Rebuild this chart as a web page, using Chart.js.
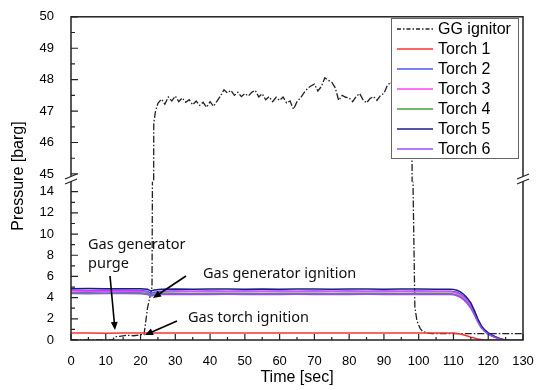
<!DOCTYPE html>
<html>
<head>
<meta charset="utf-8">
<script src="https://cdn.jsdelivr.net/npm/chart.js@4"></script>
<style>
html, body { margin: 0; padding: 0; background: #fff; }
#wrap { width: 540px; height: 390px; }
</style>
</head>
<body>
<div id="wrap"><canvas id="chart"></canvas></div>
<script>
// GG ignitor pressure: time [sec] and pressure [barg]
const ggTime = [0, 12, 12.5, 14, 16, 18, 20, 21, 22, 23.3, 23.8, 24.3,
  25, 26, 27, 28, 29, 30, 31, 32, 33, 34, 35, 36, 37, 38, 39, 40, 41, 42, 43, 44,
  45, 46, 47, 48, 49, 50, 51, 52, 53, 54, 55, 56, 57, 58, 59, 60, 61, 62, 63, 64,
  65, 66, 67, 68, 69, 70, 71, 72, 73, 74, 75, 76, 77, 78, 79, 80, 81, 82, 83, 84,
  85, 86, 87, 88, 89, 90, 91, 92, 93, 94, 95, 96, 97,
  97.6, 98.1, 98.4, 98.9, 99.5, 100.4, 101, 102.4, 104, 130];
const ggValue = [0, 0, 0.3, 0.35, 0.45, 0.4, 0.5, 0.5, 3.0, 5.0, 46.6, 47.0,
  47.25, 47.38, 47.22, 47.45, 47.32, 47.48, 47.3, 47.42, 47.28, 47.36, 47.2, 47.32, 47.18, 47.28, 47.12, 47.3, 47.15, 47.32, 47.48, 47.68,
  47.58, 47.66, 47.5, 47.6, 47.46, 47.56, 47.48, 47.6, 47.66, 47.45, 47.55, 47.36, 47.46, 47.3, 47.44, 47.34, 47.45, 47.26, 47.32, 47.06,
  47.3, 47.42, 47.58, 47.72, 47.8, 47.86, 47.64, 47.78, 48.06, 47.98, 47.92, 47.74, 47.34, 47.5, 47.44, 47.42, 47.3, 47.46, 47.56, 47.36,
  47.26, 47.4, 47.46, 47.34, 47.5, 47.56, 47.82, 47.92, 47.72, 47.82, 47.6, 47.7, 47.5,
  47.0, 45.3, 14, 3.1, 1.8, 1.1, 0.85, 0.65, 0.6, 0.6];

// torch pressures share one time base
const torchTime = [0, 5, 10, 15, 20, 22, 23, 24, 26, 30, 35, 40, 45, 50, 55, 60, 65, 70, 75, 80, 85, 90, 95, 100, 105,
  109, 110, 111, 112, 113, 114, 115, 116, 117, 118, 119, 120, 121, 122, 123, 124, 125, 126, 130];
const torch1 = [0.65, 0.65, 0.64, 0.65, 0.65, 0.65, 0.64, 0.65, 0.65, 0.65, 0.66, 0.65, 0.65, 0.66, 0.65, 0.65, 0.66, 0.65, 0.65, 0.66, 0.65, 0.65, 0.66, 0.65, 0.65,
  0.65, 0.65, 0.62, 0.56, 0.47, 0.37, 0.27, 0.18, 0.1, 0.04, 0, 0, 0, 0, 0, 0, null, null, null];
const torch2 = [4.7, 4.68, 4.7, 4.69, 4.68, 4.6, 4.4, 4.5, 4.6, 4.62, 4.61, 4.62, 4.6, 4.62, 4.61, 4.62, 4.6, 4.62, 4.61, 4.62, 4.6, 4.62, 4.61, 4.62, 4.6,
  4.6, 4.58, 4.5, 4.35, 4.1, 3.75, 3.3, 2.65, 1.9, 1.28, 0.9, 0.64, 0.45, 0.3, 0.16, 0.07, 0, 0, null];
const torch3 = [4.62, 4.6, 4.61, 4.6, 4.6, 4.5, 4.2, 4.35, 4.52, 4.56, 4.55, 4.56, 4.55, 4.56, 4.55, 4.56, 4.55, 4.56, 4.55, 4.56, 4.55, 4.56, 4.55, 4.56, 4.55,
  4.55, 4.52, 4.42, 4.25, 4.0, 3.65, 3.2, 2.55, 1.8, 1.2, 0.85, 0.6, 0.42, 0.28, 0.15, 0.06, 0, 0, null];
const torch4 = [4.45, 4.46, 4.44, 4.45, 4.45, 4.4, 4.25, 4.32, 4.38, 4.38, 4.37, 4.38, 4.39, 4.38, 4.37, 4.38, 4.39, 4.38, 4.37, 4.38, 4.39, 4.38, 4.37, 4.38, 4.38,
  4.38, 4.35, 4.26, 4.1, 3.85, 3.5, 3.05, 2.45, 1.75, 1.18, 0.82, 0.58, 0.4, 0.26, 0.14, 0.05, 0, 0, null];
const torch5 = [4.85, 4.86, 4.84, 4.85, 4.84, 4.8, 4.62, 4.72, 4.8, 4.82, 4.8, 4.82, 4.81, 4.8, 4.82, 4.8, 4.81, 4.82, 4.8, 4.81, 4.82, 4.8, 4.81, 4.82, 4.8,
  4.8, 4.78, 4.7, 4.55, 4.3, 3.95, 3.5, 2.8, 2.0, 1.35, 0.95, 0.68, 0.48, 0.32, 0.18, 0.08, 0, 0, null];
const torch6 = [4.38, 4.37, 4.38, 4.38, 4.37, 4.3, 4.15, 4.22, 4.3, 4.3, 4.29, 4.3, 4.31, 4.3, 4.29, 4.3, 4.31, 4.3, 4.29, 4.3, 4.31, 4.3, 4.29, 4.3, 4.3,
  4.3, 4.27, 4.18, 4.02, 3.78, 3.45, 3.0, 2.4, 1.72, 1.15, 0.8, 0.56, 0.38, 0.25, 0.13, 0.05, 0, 0, 0];

const seriesNames = ['GG ignitor', 'Torch 1', 'Torch 2', 'Torch 3', 'Torch 4', 'Torch 5', 'Torch 6'];
const seriesColors = ['#222222', '#ff3030', '#5050ff', '#ff40ff', '#3f9f3f', '#1c1c8a', '#9a4dff'];
const torchValues = [torch1, torch2, torch3, torch4, torch5, torch6];

const xTicks = [0, 10, 20, 30, 40, 50, 60, 70, 80, 90, 100, 110, 120, 130];
const yTopTicks = [45, 46, 47, 48, 49, 50];
const yBotTicks = [0, 2, 4, 6, 8, 10, 12, 14];

const ggDash = [7, 2, 1.5, 2];

function pts(ts, vs) {
  return ts.map((t, i) => ({ x: t, y: vs[i] })).filter(p => p.y !== null);
}

const datasets = [];
// GG ignitor drawn on both halves of the broken axis; each half clips to its own scale
datasets.push({ label: seriesNames[0], data: pts(ggTime, ggValue), yAxisID: 'yTop',
  borderColor: seriesColors[0], borderWidth: 1.3, borderDash: ggDash, order: 10 });
datasets.push({ label: seriesNames[0], data: pts(ggTime, ggValue), yAxisID: 'yBot',
  borderColor: seriesColors[0], borderWidth: 1.3, borderDash: ggDash, order: 10 });
torchValues.forEach((vals, i) => {
  datasets.push({ label: seriesNames[i + 1], data: pts(torchTime, vals), yAxisID: 'yBot',
    borderColor: seriesColors[i + 1], borderWidth: 1.5, order: 6 - i });
});

function minorStep(ticks) {
  const out = [];
  for (let i = 0; i < ticks.length - 1; i++) out.push((ticks[i] + ticks[i + 1]) / 2);
  return out;
}

const decor = {
  id: 'decor',
  afterDatasetsDraw(chart) {
    const { ctx, chartArea: a, scales } = chart;
    const sx = scales.x, yT = scales.yTop, yB = scales.yBot;
    ctx.save();

    // tick marks, pointing inward
    ctx.strokeStyle = '#222';
    ctx.lineWidth = 1.2;
    ctx.beginPath();
    xTicks.forEach(v => { const p = sx.getPixelForValue(v); ctx.moveTo(p, a.bottom); ctx.lineTo(p, a.bottom - 6); });
    minorStep(xTicks).forEach(v => { const p = sx.getPixelForValue(v); ctx.moveTo(p, a.bottom); ctx.lineTo(p, a.bottom - 3); });
    yTopTicks.forEach(v => { const p = yT.getPixelForValue(v); ctx.moveTo(a.left, p); ctx.lineTo(a.left + 7, p); });
    minorStep(yTopTicks).forEach(v => { const p = yT.getPixelForValue(v); ctx.moveTo(a.left, p); ctx.lineTo(a.left + 4, p); });
    yBotTicks.forEach(v => { const p = yB.getPixelForValue(v); ctx.moveTo(a.left, p); ctx.lineTo(a.left + 7, p); });
    minorStep(yBotTicks).forEach(v => { const p = yB.getPixelForValue(v); ctx.moveTo(a.left, p); ctx.lineTo(a.left + 4, p); });
    ctx.stroke();

    // frame
    ctx.lineWidth = 1.5;
    ctx.strokeRect(a.left, a.top, a.right - a.left, a.bottom - a.top);

    // axis break marks on left and right
    const by = yT.getPixelForValue(45) + 4;
    [a.left, a.right].forEach(bx => {
      ctx.fillStyle = '#fff';
      ctx.beginPath();
      ctx.moveTo(bx - 6, by + 1); ctx.lineTo(bx + 6, by - 4);
      ctx.lineTo(bx + 6, by + 1); ctx.lineTo(bx - 6, by + 6);
      ctx.closePath(); ctx.fill();
      ctx.strokeStyle = '#222'; ctx.lineWidth = 1.2;
      ctx.beginPath();
      ctx.moveTo(bx - 6, by + 1); ctx.lineTo(bx + 6, by - 4);
      ctx.moveTo(bx - 6, by + 6); ctx.lineTo(bx + 6, by + 1);
      ctx.stroke();
    });

    // legend box
    const lx = 391, ly = 18, lw = 127, lh = 140;
    ctx.fillStyle = '#fff';
    ctx.fillRect(lx, ly, lw, lh);
    ctx.strokeStyle = '#666'; ctx.lineWidth = 1;
    ctx.strokeRect(lx + 0.5, ly + 0.5, lw, lh);
    ctx.font = '16px "Liberation Sans", Arial, sans-serif';
    ctx.textBaseline = 'middle';
    ctx.textAlign = 'left';
    seriesNames.forEach((name, i) => {
      const ry = 29 + i * 20;
      ctx.strokeStyle = seriesColors[i];
      ctx.lineWidth = i === 0 ? 1.3 : 1.6;
      ctx.setLineDash(i === 0 ? [4, 2, 1.5, 2] : []);
      ctx.beginPath(); ctx.moveTo(397, ry); ctx.lineTo(433, ry); ctx.stroke();
      ctx.setLineDash([]);
      ctx.fillStyle = '#000';
      ctx.fillText(name, 438, ry + 1);
    });

    // annotations
    ctx.font = '14.5px "Noto Sans", sans-serif';
    ctx.fillStyle = '#111';
    ctx.fillText('Gas generator', 88, 245);
    ctx.fillText('purge', 88, 264);
    ctx.fillText('Gas generator ignition', 203, 274);
    ctx.fillText('Gas torch ignition', 188, 318);

    function arrow(x1, y1, x2, y2) {
      const ang = Math.atan2(y2 - y1, x2 - x1);
      ctx.strokeStyle = '#000'; ctx.fillStyle = '#000'; ctx.lineWidth = 1.6;
      ctx.beginPath(); ctx.moveTo(x1, y1);
      ctx.lineTo(x2 - 5 * Math.cos(ang), y2 - 5 * Math.sin(ang)); ctx.stroke();
      ctx.beginPath();
      ctx.moveTo(x2, y2);
      ctx.lineTo(x2 - 8 * Math.cos(ang) + 3.5 * Math.sin(ang), y2 - 8 * Math.sin(ang) - 3.5 * Math.cos(ang));
      ctx.lineTo(x2 - 8 * Math.cos(ang) - 3.5 * Math.sin(ang), y2 - 8 * Math.sin(ang) + 3.5 * Math.cos(ang));
      ctx.closePath(); ctx.fill();
    }
    arrow(110, 276, 115, 330);
    arrow(186, 276, 153, 298);
    arrow(177, 321, 145, 335);

    // axis titles
    ctx.fillStyle = '#000';
    ctx.font = '16px "Liberation Sans", Arial, sans-serif';
    ctx.textAlign = 'center';
    ctx.fillText('Time [sec]', (a.left + a.right) / 2, 378);
    ctx.translate(19, 176);
    ctx.rotate(-Math.PI / 2);
    ctx.fillText('Pressure [barg]', 0, 0);
    ctx.restore();
  }
};

Chart.defaults.font.family = '"Liberation Sans", Arial, sans-serif';
Chart.defaults.font.size = 13;
Chart.defaults.color = '#000';

new Chart(document.getElementById('chart'), {
  type: 'line',
  data: { datasets },
  options: {
    responsive: true,
    maintainAspectRatio: false,
    animation: false,
    devicePixelRatio: 1,
    layout: { padding: { top: 13, right: 17, bottom: 0, left: 0 } },
    elements: { point: { radius: 0 }, line: { tension: 0 } },
    plugins: { legend: { display: false }, tooltip: { enabled: false } },
    scales: {
      x: {
        type: 'linear', min: 0, max: 130,
        grid: { display: false }, border: { display: false },
        ticks: { padding: 6, maxRotation: 0, autoSkip: false },
        afterBuildTicks: s => { s.ticks = xTicks.map(v => ({ value: v })); },
        afterFit: s => { s.height = 50; }
      },
      yBot: {
        type: 'linear', position: 'left', stack: 'pressure', stackWeight: 160,
        min: 0, max: 14.93,
        grid: { display: false }, border: { display: false },
        ticks: { padding: 9, autoSkip: false },
        afterBuildTicks: s => { s.ticks = yBotTicks.map(v => ({ value: v })); },
        afterFit: s => { s.width = 71; }
      },
      yTop: {
        type: 'linear', position: 'left', stack: 'pressure', stackWeight: 167,
        min: 44.748, max: 50,
        grid: { display: false }, border: { display: false },
        ticks: { padding: 9, autoSkip: false },
        afterBuildTicks: s => { s.ticks = yTopTicks.map(v => ({ value: v })); },
        afterFit: s => { s.width = 71; }
      }
    }
  },
  plugins: [decor]
});
</script>
</body>
</html>
